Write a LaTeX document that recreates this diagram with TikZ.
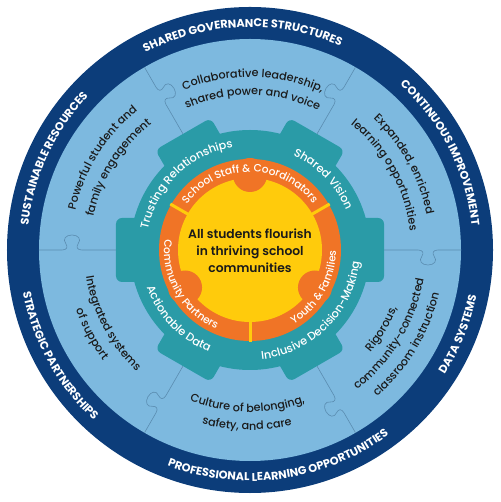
\documentclass[tikz,border=0pt]{standalone}
\usepackage{fontspec}
\setmainfont{Poppins}
\IfFontExistsTF{Poppins Medium}
  {\newfontfamily\medfont{Poppins Medium}}
  {\newfontfamily\medfont{Poppins}[FakeBold=0.6]}
\IfFontExistsTF{Poppins SemiBold}
  {\newfontfamily\semifont{Poppins SemiBold}}
  {\newcommand\semifont{\bfseries}}
\usepackage{tikz}
\usetikzlibrary{decorations.text}

\definecolor{navyband}{HTML}{0C3D7A}
\definecolor{skyfill}{HTML}{7DB9DF}
\definecolor{seamline}{HTML}{5A8CB0}
\definecolor{gearteal}{HTML}{2A9BA7}
\definecolor{flame}{HTML}{F07426}
\definecolor{sunfill}{HTML}{FFCB0C}
\definecolor{ink}{HTML}{1A1A1A}

% text on an arc, read clockwise (tops outward)
\newcommand\cwtext[5]{%
  \path[decorate, decoration={text along path, text color=#1,
      text align=center, text={|#4|#5}}]
    (#3+88:#2) arc[start angle=#3+88, end angle=#3-88, radius=#2];}
% text on an arc, read counter-clockwise (tops inward)
\newcommand\ccwtext[5]{%
  \path[decorate, decoration={text along path, text color=#1,
      text align=center, text={|#4|#5}}]
    (#3-88:#2) arc[start angle=#3-88, end angle=#3+88, radius=#2];}

\newcommand\bandfont{\bfseries\fontsize{11.3}{13}\selectfont}
\newcommand\gearfont{\medfont\fontsize{11.3}{13}\selectfont}
\newcommand\corefont{\medfont\fontsize{10.6}{12}\selectfont}
\newcommand\skyfont{\medfont\fontsize{11.2}{13}\selectfont}

\begin{document}
\begin{tikzpicture}[
  x=1pt, y=1pt,
  seam/.style={
    draw=seamline,
    line width=0.6pt
  },
  tooth/.style={
    fill=gearteal,
    rounded corners=6pt
  }
]
\useasboundingbox (-250,-252) rectangle (250,250);

% Bands
\fill[navyband] (0,0) circle[radius=243pt];
\fill[skyfill] (0,0) circle[radius=211pt];

% Puzzle seams
\foreach \a/\s in {0/1,60/-1,120/1,180/1,240/1,300/1}
  \draw[seam, rotate=\a, yscale=\s]
    (125,0) -- (168,0)
    .. controls (173,0) and (174,-3) .. (172,-6)
    .. controls (168,-11) and (172,-15) .. (178,-15)
    .. controls (184,-15) and (188,-11) .. (184,-6)
    .. controls (182,-3) and (183,0) .. (188,0) -- (211,0);

% Gear
\fill[gearteal] (0,0) circle[radius=120pt];
\foreach \a in {0,60,...,300}
  \fill[tooth, rotate=\a] (100,-32) rectangle (134,32);

% Partner ring and core
\fill[flame] (0,0) circle[radius=91pt];
\fill[sunfill] (0,0) circle[radius=72pt];
\foreach \a in {90,210,330}
  \fill[flame] (\a:75pt) circle[radius=17pt];
\foreach \a in {30,150,270}
  \draw[sunfill, line width=3pt] (\a:70pt) -- (\a:92pt);

\node[font=\semifont\fontsize{12.3}{17}\selectfont, text=ink, align=center]
  (core) at (0,-1) {All students flourish\\in thriving school\\communities};

% Outer band labels
\cwtext{white}{223pt}{92}{\bandfont}{SHARED GOVERNANCE STRUCTURES}
\cwtext{white}{223pt}{27}{\bandfont}{CONTINUOUS IMPROVEMENT}
\cwtext{white}{223pt}{155}{\bandfont}{SUSTAINABLE RESOURCES}
\ccwtext{white}{231pt}{338}{\bandfont}{DATA SYSTEMS}
\ccwtext{white}{231pt}{278}{\bandfont}{PROFESSIONAL LEARNING OPPORTUNITIES}
\ccwtext{white}{231pt}{209}{\bandfont}{STRATEGIC PARTNERSHIPS}

% Puzzle pieces
\cwtext{ink}{173pt}{89}{\skyfont}{Collaborative leadership,}
\cwtext{ink}{155pt}{89}{\skyfont}{shared power and voice}
\cwtext{ink}{179pt}{148}{\skyfont}{Powerful student and}
\cwtext{ink}{160pt}{148}{\skyfont}{family engagement}
\cwtext{ink}{180pt}{29}{\skyfont}{Expanded, enriched}
\cwtext{ink}{161pt}{29}{\skyfont}{learning opportunities}
\ccwtext{ink}{158pt}{329}{\skyfont}{Rigorous,}
\ccwtext{ink}{176pt}{329}{\skyfont}{community-connected}
\ccwtext{ink}{194pt}{329}{\skyfont}{classroom instruction}
\ccwtext{ink}{162pt}{269}{\skyfont}{Culture of belonging,}
\ccwtext{ink}{180pt}{269}{\skyfont}{safety, and care}
\ccwtext{ink}{166pt}{208}{\skyfont}{Integrated systems}
\ccwtext{ink}{184pt}{208}{\skyfont}{of support}

% Gear labels
\cwtext{white}{104pt}{134}{\gearfont}{Trusting Relationships}
\cwtext{white}{104pt}{44}{\gearfont}{Shared Vision}
\ccwtext{white}{110pt}{224}{\gearfont}{Actionable Data}
\ccwtext{white}{110pt}{315}{\gearfont}{Inclusive Decision-Making}

% Partner labels
\cwtext{white}{78pt}{90}{\corefont}{School Staff {\&} Coordinators}
\ccwtext{white}{86pt}{210}{\corefont}{Community Partners}
\ccwtext{white}{86pt}{330}{\corefont}{Youth {\&} Families}

\end{tikzpicture}
\end{document}
